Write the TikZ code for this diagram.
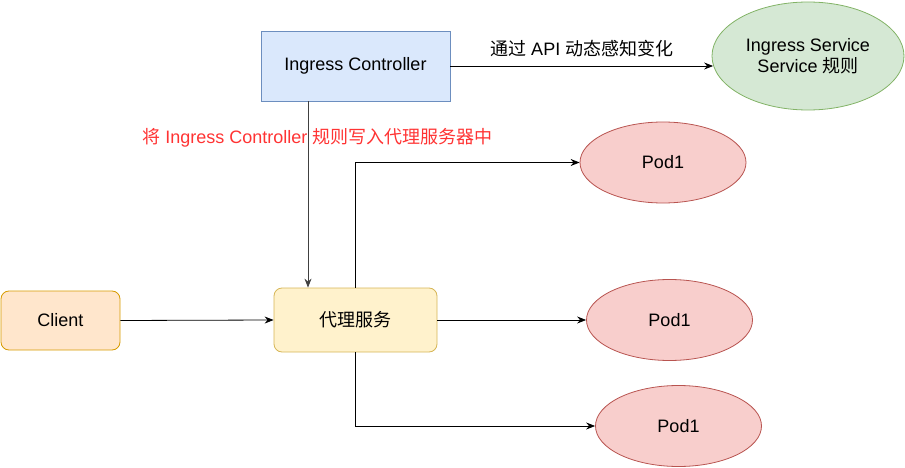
\documentclass[tikz,border=0pt]{standalone}
\usepackage{fontspec}
\setmainfont{Liberation Sans}
\newfontfamily\cjk{Noto Sans CJK SC}
\usetikzlibrary{shapes.geometric,arrows.meta}
\definecolor{ctrlfill}{HTML}{DAE8FC}
\definecolor{ctrldraw}{HTML}{6C8EBF}
\definecolor{svcfill}{HTML}{D5E8D4}
\definecolor{svcdraw}{HTML}{82B366}
\definecolor{clifill}{HTML}{FFE6CC}
\definecolor{clidraw}{HTML}{D79B00}
\definecolor{proxfill}{HTML}{FFF2CC}
\definecolor{proxdraw}{HTML}{D6B656}
\definecolor{podfill}{HTML}{F8CECC}
\definecolor{poddraw}{HTML}{B85450}
\definecolor{redtext}{HTML}{FF3333}
\tikzset{
  base/.style={font=\fontsize{18}{21}\selectfont, align=center, inner sep=0pt, line width=0.8pt},
  ctrlbox/.style={base, rectangle, fill=ctrlfill, draw=ctrldraw, minimum width=189pt, minimum height=70pt},
  clibox/.style={base, rectangle, rounded corners=8pt, fill=clifill, draw=clidraw, minimum width=119pt, minimum height=59pt},
  proxbox/.style={base, rectangle, rounded corners=8pt, fill=proxfill, draw=proxdraw, minimum width=163pt, minimum height=64pt},
  svcell/.style={base, ellipse, fill=svcfill, draw=svcdraw, minimum width=192pt, minimum height=108pt},
  podell/.style={base, ellipse, fill=podfill, draw=poddraw, minimum width=166pt, minimum height=81pt},
  conn/.style={line width=0.8pt, -{Stealth[length=9pt,width=7pt,inset=3pt]}},
  lbl/.style={font=\fontsize{18}{21}\selectfont, inner sep=0pt},
}
\begin{document}
\begin{tikzpicture}[x=1pt,y=-1pt]
\useasboundingbox (0,0) rectangle (905,468);
\node[ctrlbox] (ctrl) at (355.5,66) {Ingress Controller};
\node[svcell] (svc) at (808,56) {Ingress Service\\Service {\cjk 规则}};
\node[clibox] (cli) at (60.5,320.5) {Client};
\node[proxbox] (prox) at (355.5,320) {\cjk 代理服务};
\node[podell] (pod1) at (663,162.5) {Pod1};
\node[podell] (pod2) at (669.5,320) {Pod1};
\node[podell] (pod3) at (678.5,426) {Pod1};
\coordinate (arrowy) at (0,66);
\draw[conn] (ctrl.east |- arrowy) -- ([xshift=1.5pt]svc.west |- arrowy) node[lbl, midway, above=9pt] {{\cjk 通过} API {\cjk 动态感知变化}};
\node[lbl, text=redtext] (rule) at (317.5,138) {{\cjk 将} Ingress Controller {\cjk 规则写入代理服务器中}};
\coordinate (ctop) at (308,101);
\draw[conn, draw=black!75] (ctrl.south -| ctop) -- (prox.north -| ctop);
\draw[conn] (cli.east) -- (prox.west);
\draw[conn] (prox.east) -- (pod2.west);
\draw[conn] (prox.north) -- (prox.north |- pod1.west) -- (pod1.west);
\draw[conn] (prox.south) -- (prox.south |- pod3.west) -- (pod3.west);
\end{tikzpicture}
\end{document}
